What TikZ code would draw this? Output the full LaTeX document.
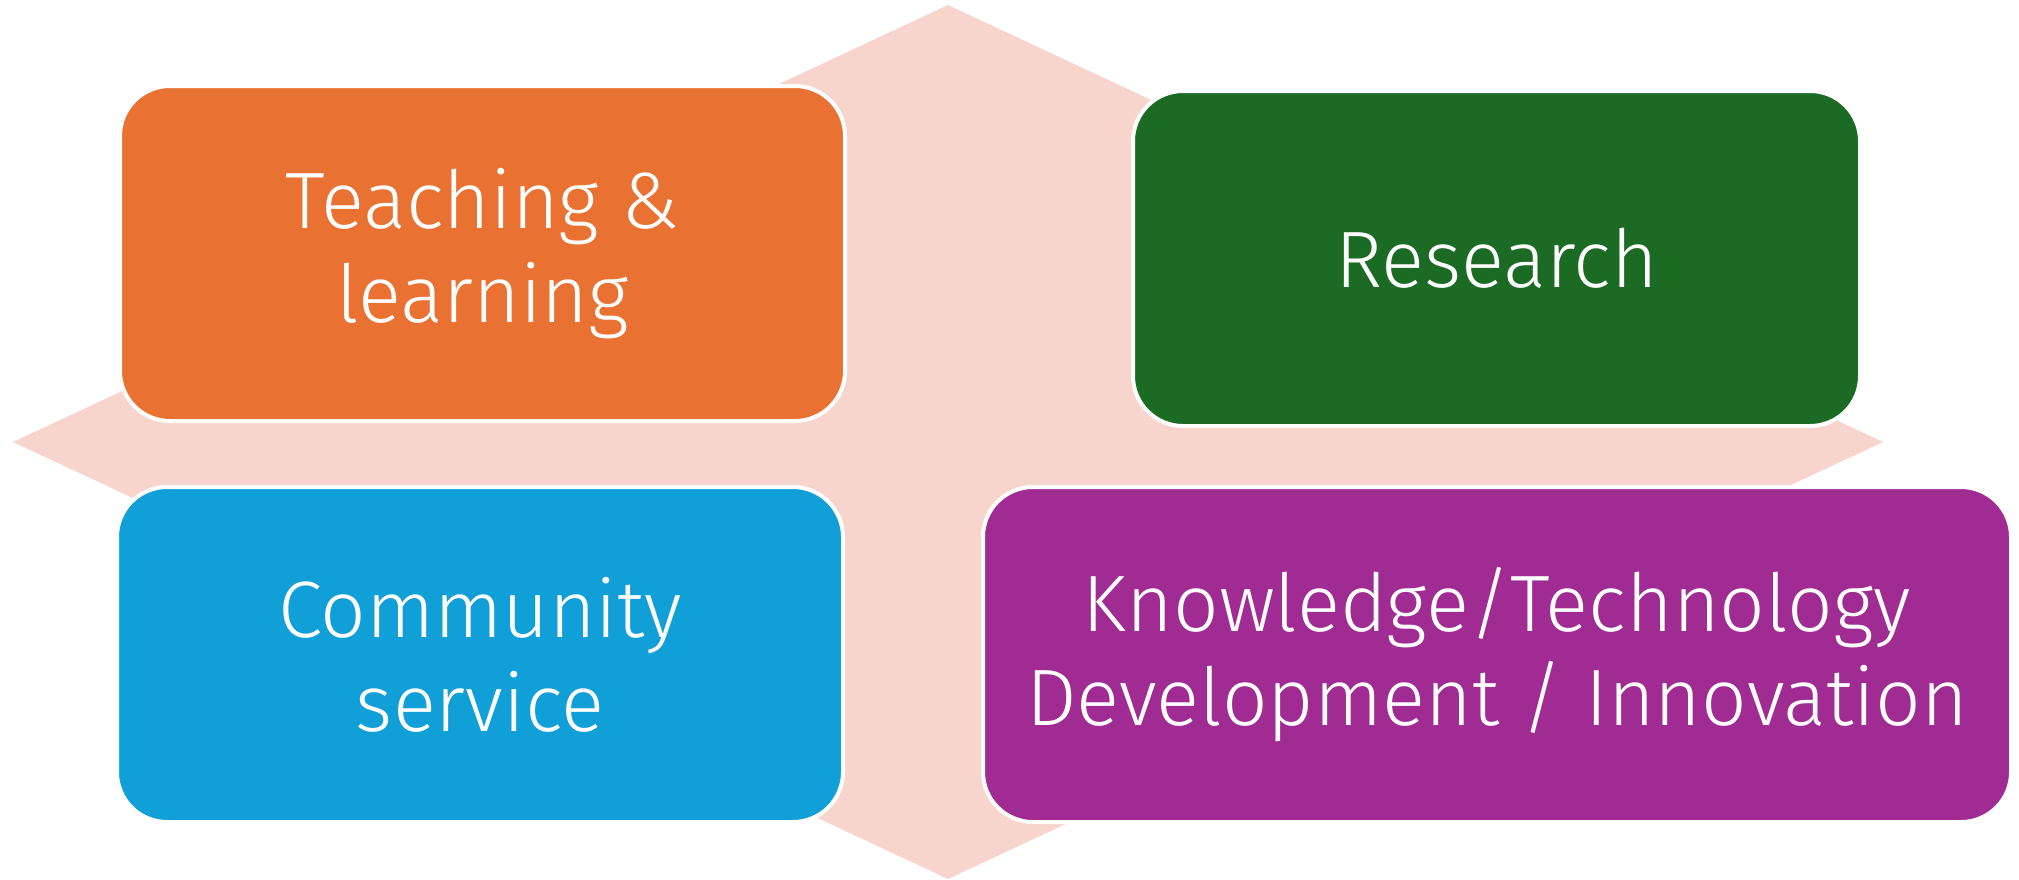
\documentclass[tikz,border=0pt]{standalone}
\usepackage{fontspec}
\setmainfont{Fira Sans Light}
\definecolor{cOrange}{HTML}{E97132}
\definecolor{cGreen}{HTML}{1B6B24}
\definecolor{cBlue}{HTML}{109FD6}
\definecolor{cPurple}{HTML}{A02B93}
\definecolor{cPink}{HTML}{F7D5CC}
\tikzset{
  tile/.style={draw=white, line width=2pt, rounded corners=25pt,
    text=white, align=center, inner sep=0pt,
    font=\fontsize{40}{47}\selectfont, minimum height=167.5pt}
}
\begin{document}
\begin{tikzpicture}[x=0.5pt,y=-0.5pt]
\useasboundingbox (0,0) rectangle (2019,879);
\fill[cPink] (13,442) -- (948,5) -- (1883,442) -- (948,879) -- cycle;
\node[tile, fill=cOrange, minimum width=362.5pt] (tl) at (482.5,253.5) {Teaching \&\\learning};
\node[tile, fill=cGreen, minimum width=363.5pt] (tr) at (1496.5,258.5) {Research};
\node[tile, fill=cBlue, minimum width=363pt] (bl) at (480,654.5) {Community\\service};
\node[tile, fill=cPurple, minimum width=514pt] (br) at (1497,654.5) {Knowledge/Technology\\Development / Innovation};
\end{tikzpicture}
\end{document}
